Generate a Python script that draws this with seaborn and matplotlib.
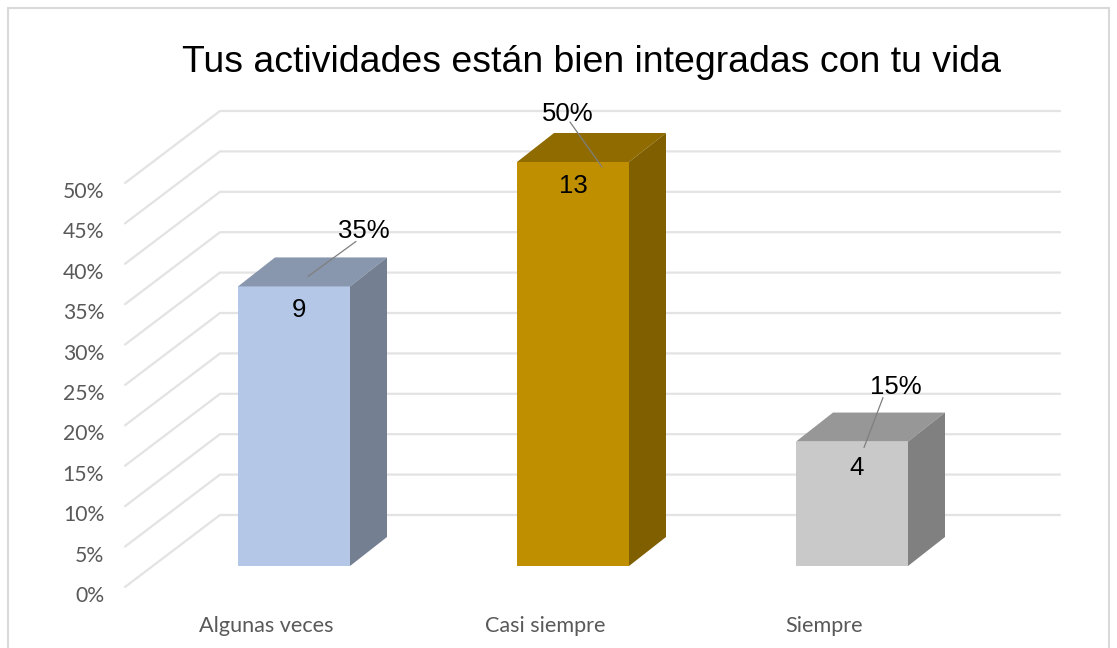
import numpy as np
import pandas as pd
import matplotlib
matplotlib.use('Agg')
import matplotlib.pyplot as plt
import seaborn as sns
from matplotlib.patches import Polygon, Rectangle
from matplotlib.transforms import ScaledTranslation

# ============ Dataset ============
categorias = ['Algunas veces', 'Casi siempre', 'Siempre']
porcentajes = [34.6, 50.0, 15.4]
conteos = [9, 13, 4]
etiquetas_pct = ['35%', '50%', '15%']
niveles = [0, 5, 10, 15, 20, 25, 30, 35, 40, 45, 50]
titulo = 'Tus actividades están bien integradas con tu vida'

# ============ Colors ============
color_frente = ['#B4C7E7', '#BF8F00', '#C9C9C9']
color_arriba = ['#8897AE', '#8F6B00', '#979797']
color_lado = ['#747F92', '#7F5F00', '#808080']

# ============ Scale (pixels per unit) ============
W, H = 1117, 648
PX_X = 279.0   # px per category
PX_Y = 8.08    # px per percent
IZQ, DER, BASE = 125, 1060, 592
YMAX = 60

# 3D offsets
FONDO_DX, FONDO_DY = 95 / PX_X, 77 / PX_Y     # side wall depth
BARRA_DX, BARRA_DY = 37 / PX_X, 29 / PX_Y     # bar depth
PISO = 26 / PX_Y                              # bars sit on this level
ANCHO = 112 / PX_X

sns.set_theme(style='white')
plt.rcParams['font.family'] = ['Liberation Sans', 'DejaVu Sans']

fig = plt.figure(figsize=(W / 100, H / 100), dpi=100)
ax = fig.add_axes([IZQ / W, (H - BASE) / H, (DER - IZQ) / W, YMAX * PX_Y / H])

df = pd.DataFrame({'categoria': categorias, 'porcentaje': porcentajes})
sns.barplot(data=df, x='categoria', y='porcentaje', hue='categoria', palette=color_frente,
            width=ANCHO, bottom=PISO, errorbar=None, legend=False, ax=ax, zorder=3,
            edgecolor='none', saturation=1)

x0 = (IZQ - 294) / PX_X
x1 = (DER - 294) / PX_X
ax.set_xlim(x0, x1)
ax.set_ylim(0, YMAX)

# ============ Walls ============
for n in niveles:
    ax.plot([x0, x0 + FONDO_DX, x1], [n + 0.62, n + FONDO_DY, n + FONDO_DY],
            color='#E3E3E3', lw=1.6, zorder=1, clip_on=False, solid_joinstyle='miter')

# ============ Bar sides and tops ============
for i, v in enumerate(porcentajes):
    izq, der = i - ANCHO / 2, i + ANCHO / 2
    tope = PISO + v
    ax.add_patch(Polygon([(izq, tope), (der, tope), (der + BARRA_DX, tope + BARRA_DY),
                          (izq + BARRA_DX, tope + BARRA_DY)], color=color_arriba[i], lw=0, zorder=3))
    ax.add_patch(Polygon([(der, PISO), (der, tope), (der + BARRA_DX, tope + BARRA_DY),
                          (der + BARRA_DX, PISO + BARRA_DY)], color=color_lado[i], lw=0, zorder=3))

# ============ Data labels ============
# offsets in px from the centre of each bar top
off_conteo = [(5, -24), (0, -24), (5, -26)]
off_pct = [(70, 55), (-5, 48), (44, 55)]
off_linea = [((14, 10), (62, 45)), ((-3, 40), (29, -5)), ((31, 44), (12, -6))]
for i, v in enumerate(porcentajes):
    tope = PISO + v
    ax.text(i + off_conteo[i][0] / PX_X, tope + off_conteo[i][1] / PX_Y, str(conteos[i]),
            ha='center', va='center', fontsize=18.5, color='black', zorder=5)
    ax.text(i + off_pct[i][0] / PX_X, tope + off_pct[i][1] / PX_Y, etiquetas_pct[i],
            ha='center', va='center', fontsize=18.5, color='black', zorder=5, clip_on=False)
    a, b = off_linea[i]
    ax.plot([i + a[0] / PX_X, i + b[0] / PX_X], [tope + a[1] / PX_Y, tope + b[1] / PX_Y],
            color='#7F7F7F', lw=0.9, zorder=4, clip_on=False)

# ============ Axes ============
ax.set_yticks(niveles)
ax.set_yticklabels([f'{n}%' for n in niveles], family='Lato', fontsize=15.2, color='#595959')
ax.set_xticks(np.arange(3) - 28 / PX_X)
ax.set_xticklabels(categorias, family='Lato', fontsize=15.6, color='#595959')
ax.tick_params(axis='y', length=0, pad=15)
ax.tick_params(axis='x', length=0, pad=17)
baja = ScaledTranslation(0, -2 / 100, fig.dpi_scale_trans)
for lab in ax.get_yticklabels():
    lab.set_transform(lab.get_transform() + baja)
ax.set_xlabel('')
ax.set_ylabel('')
sns.despine(ax=ax, left=True, bottom=True)
ax.patch.set_alpha(0)

fig.text(591 / W, 1 - 62 / H, titulo, ha='center', va='center', fontsize=26.9, color='black')
fig.add_artist(Rectangle((8 / W, -0.05), (1109 - 8) / W, 1.05 - 8 / H, transform=fig.transFigure,
                         fill=False, edgecolor='#D9D9D9', lw=1.5))

fig.savefig('out.png', dpi=100)
